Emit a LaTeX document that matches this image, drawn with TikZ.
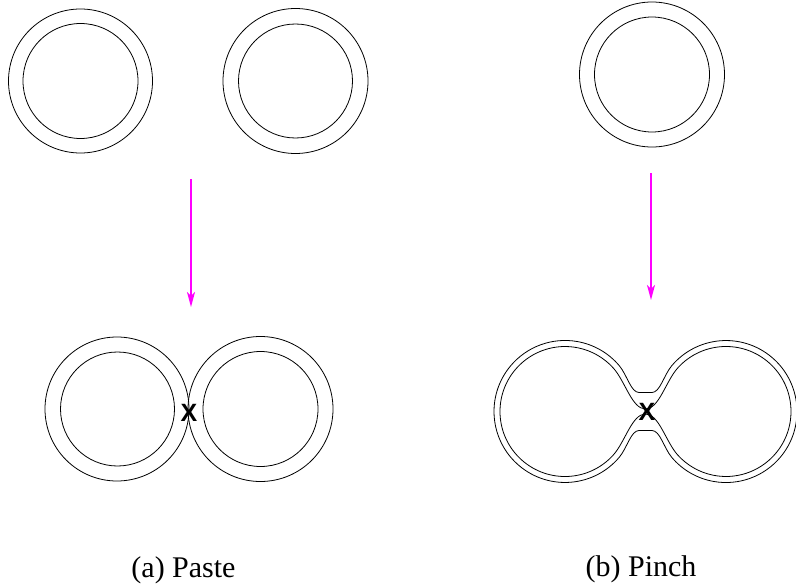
\documentclass[tikz,border=0pt]{standalone}
\usepackage{fontspec}
\setmainfont{Liberation Serif}
\newfontfamily\capfont{Liberation Serif}
\newfontfamily\xfont{Liberation Sans}
\usetikzlibrary{arrows.meta}
\definecolor{arrowmag}{RGB}{255,0,255}
\tikzset{
  ring/.style={draw=black, line width=0.8pt},
  maparrow/.style={draw=arrowmag, line width=1.3pt, -{Stealth[length=15pt,width=8pt,inset=4pt]}},
  crossmark/.style={font=\xfont\bfseries\fontsize{25}{30}\selectfont, inner sep=0pt},
  caption/.style={font=\capfont\fontsize{30}{36}\selectfont, anchor=base, inner sep=0pt}
}
\begin{document}
\begin{tikzpicture}[x=1pt,y=-1pt]
\useasboundingbox (0,0) rectangle (796,586);
% top row
\node[ring, circle, minimum size=144pt, inner sep=0pt] (t1o) at (80.5,81) {};
\node[ring, circle, minimum size=115pt, inner sep=0pt] (t1i) at (80.5,81) {};
\node[ring, circle, minimum size=145pt, inner sep=0pt] (t2o) at (295.5,81) {};
\node[ring, circle, minimum size=114pt, inner sep=0pt] (t2i) at (295.5,81) {};
\node[ring, circle, minimum size=145pt, inner sep=0pt] (t3o) at (652,74.5) {};
\node[ring, circle, minimum size=115pt, inner sep=0pt] (t3i) at (652,74.5) {};
% arrows
\coordinate (a1) at (191,179);
\coordinate (a2) at (191,307);
\coordinate (b1) at (651,173);
\coordinate (b2) at (651,300);
\draw[maparrow] (a1) -- (a2);
\draw[maparrow] (b1) -- (b2);
% paste
\node[ring, circle, minimum size=144pt, inner sep=0pt] (p1o) at (117,409) {};
\node[ring, circle, minimum size=114pt, inner sep=0pt] (p1i) at (117.5,409) {};
\node[ring, circle, minimum size=145pt, inner sep=0pt] (p2o) at (260.5,409) {};
\node[ring, circle, minimum size=115pt, inner sep=0pt] (p2i) at (260.5,409) {};
\node[crossmark] (xa) at (189,413) {X};
% pinch: outer contour
\draw[ring] (639,392.5) -- (652,392.5)
  .. controls (660,392.5) and (663.9,375.1) .. (671.6,365.9)
  arc[start angle=-140, end angle=140, radius=71]
  .. controls (663.9,447.9) and (660,430.5) .. (652,430.5)
  -- (639,430.5)
  .. controls (631,430.5) and (627.1,447.9) .. (619.4,457.1)
  arc[start angle=40, end angle=320, radius=71]
  .. controls (627.1,375.1) and (631,392.5) .. (639,392.5) -- cycle;
% pinch: inner contour
\draw[ring] (645.5,409)
  .. controls (659,409) and (665.7,381.4) .. (677.7,368)
  arc[start angle=-138, end angle=138, radius=65]
  .. controls (665.7,441.6) and (659,414) .. (645.5,414)
  .. controls (632,414) and (625.3,441.6) .. (613.3,455)
  arc[start angle=42, end angle=318, radius=65]
  .. controls (625.3,381.4) and (632,409) .. (645.5,409) -- cycle;
\node[crossmark] (xb) at (647,412) {X};
% captions
\node[caption] (capa) at (183.5,577) {(a) Paste};
\node[caption] (capb) at (641,576) {(b) Pinch};
\end{tikzpicture}
\end{document}
